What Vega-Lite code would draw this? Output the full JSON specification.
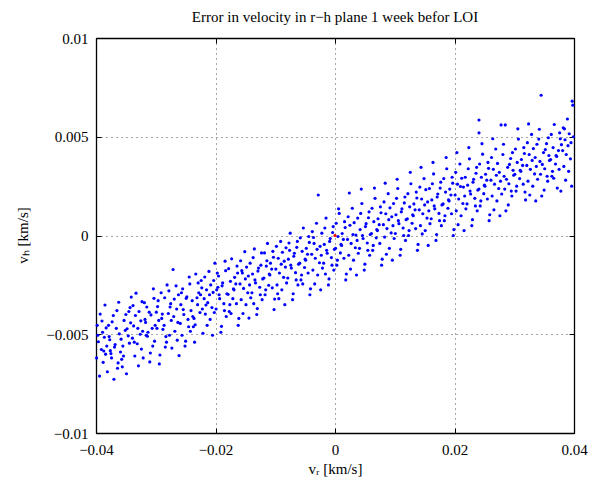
{
"$schema":"https://vega.github.io/schema/vega-lite/v6.json",
"width":478,"height":395,
"autosize":{"type":"none"},
"padding":{"left":96,"top":38,"right":32,"bottom":51},
"background":"white",
"config":{"view":{"stroke":"#000","strokeWidth":1},"font":"Liberation Serif"},
"title":{"text":"Error in velocity in r−h plane 1 week befor LOI","font":"Liberation Serif","fontSize":15,"fontWeight":"normal","color":"#000","anchor":"middle","baseline":"alphabetic","offset":-6},
"layer":[
{"data":{"values":[
{"vr":-0.0399,"vh":-0.0062},{"vr":-0.0398,"vh":-0.00455},{"vr":-0.0396,"vh":-0.00538},{"vr":-0.0394,"vh":-0.00712},{"vr":-0.0393,"vh":-0.00398},{"vr":-0.0391,"vh":-0.00577},{"vr":-0.0389,"vh":-0.0049},{"vr":-0.0388,"vh":-0.00642},{"vr":-0.0386,"vh":-0.00515},{"vr":-0.0385,"vh":-0.00352},{"vr":-0.0384,"vh":-0.00601},{"vr":-0.0383,"vh":-0.00468},{"vr":-0.0382,"vh":-0.0056},{"vr":-0.0381,"vh":-0.0069},{"vr":-0.0397,"vh":-0.00505},{"vr":-0.039,"vh":-0.00433},{"vr":-0.0387,"vh":-0.00585},
{"vr":-0.0361,"vh":-0.00498},{"vr":-0.0363,"vh":-0.00645},{"vr":-0.0365,"vh":-0.0038},{"vr":-0.0368,"vh":-0.00552},{"vr":-0.037,"vh":-0.00728},{"vr":-0.0373,"vh":-0.00437},{"vr":-0.0375,"vh":-0.00598},{"vr":-0.0378,"vh":-0.00512},{"vr":-0.0362,"vh":-0.00338},{"vr":-0.0364,"vh":-0.00672},{"vr":-0.0366,"vh":-0.0047},{"vr":-0.0369,"vh":-0.00565},{"vr":-0.0371,"vh":-0.00405},{"vr":-0.0374,"vh":-0.0062},{"vr":-0.0377,"vh":-0.00528},{"vr":-0.0379,"vh":-0.00455},{"vr":-0.0376,"vh":-0.00583},
{"vr":-0.035,"vh":-0.004},{"vr":-0.0344,"vh":-0.00545},{"vr":-0.0356,"vh":-0.00665},{"vr":-0.0348,"vh":-0.00472},{"vr":-0.0341,"vh":-0.00312},{"vr":-0.0359,"vh":-0.0059},{"vr":-0.0353,"vh":-0.0043},{"vr":-0.0346,"vh":-0.00508},{"vr":-0.0357,"vh":-0.00627},{"vr":-0.0343,"vh":-0.00365},{"vr":-0.0351,"vh":-0.0048},{"vr":-0.0355,"vh":-0.0056},{"vr":-0.0342,"vh":-0.00442},{"vr":-0.0349,"vh":-0.007},{"vr":-0.0358,"vh":-0.00525},{"vr":-0.0345,"vh":-0.00385},{"vr":-0.0354,"vh":-0.0061},
{"vr":-0.0339,"vh":-0.0052},{"vr":-0.0338,"vh":-0.00355},{"vr":-0.0337,"vh":-0.00458},{"vr":-0.0335,"vh":-0.0061},{"vr":-0.0334,"vh":-0.00405},{"vr":-0.0333,"vh":-0.00292},{"vr":-0.0331,"vh":-0.00548},{"vr":-0.033,"vh":-0.0047},{"vr":-0.0329,"vh":-0.0066},{"vr":-0.0328,"vh":-0.00385},{"vr":-0.0326,"vh":-0.005},{"vr":-0.0325,"vh":-0.00432},{"vr":-0.0324,"vh":-0.00575},{"vr":-0.0323,"vh":-0.00335},{"vr":-0.0322,"vh":-0.00485},{"vr":-0.0321,"vh":-0.0062},{"vr":-0.0336,"vh":-0.0054},
{"vr":-0.0301,"vh":-0.00455},{"vr":-0.0303,"vh":-0.00318},{"vr":-0.0305,"vh":-0.0056},{"vr":-0.0308,"vh":-0.00402},{"vr":-0.031,"vh":-0.0064},{"vr":-0.0313,"vh":-0.0049},{"vr":-0.0315,"vh":-0.00362},{"vr":-0.0318,"vh":-0.00425},{"vr":-0.0302,"vh":-0.00535},{"vr":-0.0304,"vh":-0.0027},{"vr":-0.0306,"vh":-0.0047},{"vr":-0.0309,"vh":-0.00595},{"vr":-0.0311,"vh":-0.00388},{"vr":-0.0314,"vh":-0.0051},{"vr":-0.0317,"vh":-0.0044},{"vr":-0.0319,"vh":-0.0034},{"vr":-0.0316,"vh":-0.00505},
{"vr":-0.029,"vh":-0.0042},{"vr":-0.0284,"vh":-0.00565},{"vr":-0.0296,"vh":-0.0033},{"vr":-0.0288,"vh":-0.00475},{"vr":-0.0281,"vh":-0.0025},{"vr":-0.0299,"vh":-0.00388},{"vr":-0.0293,"vh":-0.00605},{"vr":-0.0286,"vh":-0.00455},{"vr":-0.0297,"vh":-0.0036},{"vr":-0.0283,"vh":-0.00512},{"vr":-0.0291,"vh":-0.0029},{"vr":-0.0295,"vh":-0.0043},{"vr":-0.0282,"vh":-0.0054},{"vr":-0.0289,"vh":-0.00398},{"vr":-0.0298,"vh":-0.0047},{"vr":-0.0285,"vh":-0.00315},{"vr":-0.0294,"vh":-0.0065},
{"vr":-0.0279,"vh":-0.00395},{"vr":-0.0278,"vh":-0.0028},{"vr":-0.0277,"vh":-0.00505},{"vr":-0.0275,"vh":-0.00345},{"vr":-0.0274,"vh":-0.0043},{"vr":-0.0273,"vh":-0.0057},{"vr":-0.0271,"vh":-0.00172},{"vr":-0.027,"vh":-0.0041},{"vr":-0.0269,"vh":-0.00322},{"vr":-0.0268,"vh":-0.00485},{"vr":-0.0266,"vh":-0.00255},{"vr":-0.0265,"vh":-0.00372},{"vr":-0.0264,"vh":-0.0053},{"vr":-0.0263,"vh":-0.0044},{"vr":-0.0262,"vh":-0.003},{"vr":-0.0261,"vh":-0.00608},{"vr":-0.0276,"vh":-0.00362},
{"vr":-0.0241,"vh":-0.0038},{"vr":-0.0243,"vh":-0.00245},{"vr":-0.0245,"vh":-0.00462},{"vr":-0.0248,"vh":-0.0031},{"vr":-0.025,"vh":-0.00535},{"vr":-0.0253,"vh":-0.004},{"vr":-0.0255,"vh":-0.0027},{"vr":-0.0258,"vh":-0.0035},{"vr":-0.0242,"vh":-0.00485},{"vr":-0.0244,"vh":-0.0021},{"vr":-0.0246,"vh":-0.00425},{"vr":-0.0249,"vh":-0.00318},{"vr":-0.0251,"vh":-0.0056},{"vr":-0.0254,"vh":-0.00375},{"vr":-0.0257,"vh":-0.0029},{"vr":-0.0259,"vh":-0.00445},{"vr":-0.0256,"vh":-0.00505},
{"vr":-0.023,"vh":-0.0035},{"vr":-0.0224,"vh":-0.00228},{"vr":-0.0236,"vh":-0.0042},{"vr":-0.0228,"vh":-0.0029},{"vr":-0.0221,"vh":-0.00495},{"vr":-0.0239,"vh":-0.0033},{"vr":-0.0233,"vh":-0.00195},{"vr":-0.0226,"vh":-0.0039},{"vr":-0.0237,"vh":-0.00462},{"vr":-0.0223,"vh":-0.00265},{"vr":-0.0231,"vh":-0.00315},{"vr":-0.0235,"vh":-0.0054},{"vr":-0.0222,"vh":-0.00372},{"vr":-0.0229,"vh":-0.0024},{"vr":-0.0238,"vh":-0.0041},{"vr":-0.0225,"vh":-0.003},{"vr":-0.0234,"vh":-0.00452},
{"vr":-0.0219,"vh":-0.0032},{"vr":-0.0218,"vh":-0.0021},{"vr":-0.0217,"vh":-0.00398},{"vr":-0.0215,"vh":-0.00275},{"vr":-0.0214,"vh":-0.00455},{"vr":-0.0213,"vh":-0.0034},{"vr":-0.0211,"vh":-0.00182},{"vr":-0.021,"vh":-0.003},{"vr":-0.0209,"vh":-0.00425},{"vr":-0.0208,"vh":-0.0025},{"vr":-0.0206,"vh":-0.00365},{"vr":-0.0205,"vh":-0.00505},{"vr":-0.0204,"vh":-0.00288},{"vr":-0.0203,"vh":-0.00228},{"vr":-0.0202,"vh":-0.0039},{"vr":-0.0201,"vh":-0.0014},{"vr":-0.0216,"vh":-0.00352},
{"vr":-0.0181,"vh":-0.00295},{"vr":-0.0183,"vh":-0.00178},{"vr":-0.0185,"vh":-0.0038},{"vr":-0.0188,"vh":-0.0024},{"vr":-0.019,"vh":-0.0046},{"vr":-0.0193,"vh":-0.0032},{"vr":-0.0195,"vh":-0.00205},{"vr":-0.0198,"vh":-0.00275},{"vr":-0.0182,"vh":-0.0041},{"vr":-0.0184,"vh":-0.0013},{"vr":-0.0186,"vh":-0.00345},{"vr":-0.0189,"vh":-0.00255},{"vr":-0.0191,"vh":-0.0049},{"vr":-0.0194,"vh":-0.003},{"vr":-0.0197,"vh":-0.0019},{"vr":-0.0199,"vh":-0.00372},{"vr":-0.0196,"vh":-0.00262},
{"vr":-0.017,"vh":-0.0027},{"vr":-0.0164,"vh":-0.00155},{"vr":-0.0176,"vh":-0.0035},{"vr":-0.0168,"vh":-0.00212},{"vr":-0.0161,"vh":-0.0042},{"vr":-0.0179,"vh":-0.00298},{"vr":-0.0173,"vh":-0.00118},{"vr":-0.0166,"vh":-0.00245},{"vr":-0.0177,"vh":-0.00385},{"vr":-0.0163,"vh":-0.0019},{"vr":-0.0171,"vh":-0.0032},{"vr":-0.0175,"vh":-0.00232},{"vr":-0.0162,"vh":-0.00455},{"vr":-0.0169,"vh":-0.00275},{"vr":-0.0178,"vh":-0.00168},{"vr":-0.0165,"vh":-0.00345},{"vr":-0.0174,"vh":-0.00395},
{"vr":-0.0159,"vh":-0.00245},{"vr":-0.0158,"vh":-0.00128},{"vr":-0.0157,"vh":-0.00325},{"vr":-0.0155,"vh":-0.0019},{"vr":-0.0154,"vh":-0.00395},{"vr":-0.0153,"vh":-0.00268},{"vr":-0.0151,"vh":-0.00082},{"vr":-0.015,"vh":-0.0022},{"vr":-0.0149,"vh":-0.0035},{"vr":-0.0148,"vh":-0.0016},{"vr":-0.0146,"vh":-0.0029},{"vr":-0.0145,"vh":-0.00205},{"vr":-0.0144,"vh":-0.00418},{"vr":-0.0143,"vh":-0.0025},{"vr":-0.0142,"vh":-0.0014},{"vr":-0.0141,"vh":-0.00315},{"vr":-0.0156,"vh":-0.00178},
{"vr":-0.0121,"vh":-0.0022},{"vr":-0.0123,"vh":-0.00088},{"vr":-0.0125,"vh":-0.003},{"vr":-0.0128,"vh":-0.00165},{"vr":-0.013,"vh":-0.0037},{"vr":-0.0133,"vh":-0.0024},{"vr":-0.0135,"vh":-0.00068},{"vr":-0.0138,"vh":-0.00195},{"vr":-0.0122,"vh":-0.00325},{"vr":-0.0124,"vh":-0.0015},{"vr":-0.0126,"vh":-0.00262},{"vr":-0.0129,"vh":-0.0018},{"vr":-0.0131,"vh":-0.004},{"vr":-0.0134,"vh":-0.00225},{"vr":-0.0137,"vh":-0.00112},{"vr":-0.0139,"vh":-0.0029},{"vr":-0.0136,"vh":-0.00345},
{"vr":-0.011,"vh":-0.00195},{"vr":-0.0104,"vh":-0.0008},{"vr":-0.0116,"vh":-0.00275},{"vr":-0.0108,"vh":-0.0014},{"vr":-0.0101,"vh":-0.00322},{"vr":-0.0119,"vh":-0.00215},{"vr":-0.0113,"vh":-0.0004},{"vr":-0.0106,"vh":-0.0017},{"vr":-0.0117,"vh":-0.003},{"vr":-0.0103,"vh":-0.0011},{"vr":-0.0111,"vh":-0.00252},{"vr":-0.0115,"vh":-0.00155},{"vr":-0.0102,"vh":-0.00375},{"vr":-0.0109,"vh":-0.002},{"vr":-0.0118,"vh":-0.00088},{"vr":-0.0105,"vh":-0.00265},{"vr":-0.0114,"vh":-0.00128},
{"vr":-0.0099,"vh":-0.0017},{"vr":-0.0098,"vh":-0.00055},{"vr":-0.0097,"vh":-0.0025},{"vr":-0.0095,"vh":-0.00115},{"vr":-0.0094,"vh":-0.0032},{"vr":-0.0093,"vh":-0.0019},{"vr":-0.0091,"vh":-0.0003},{"vr":-0.009,"vh":-0.00145},{"vr":-0.0089,"vh":-0.00275},{"vr":-0.0088,"vh":-0.00085},{"vr":-0.0086,"vh":-0.00212},{"vr":-0.0085,"vh":-0.0013},{"vr":-0.0084,"vh":-0.0035},{"vr":-0.0083,"vh":-0.0016},{"vr":-0.0082,"vh":-0.00062},{"vr":-0.0081,"vh":-0.0024},{"vr":-0.0096,"vh":-0.00295},
{"vr":-0.0061,"vh":-0.00145},{"vr":-0.0063,"vh":-0.0003},{"vr":-0.0065,"vh":-0.00225},{"vr":-0.0068,"vh":-0.0009},{"vr":-0.007,"vh":-0.00295},{"vr":-0.0073,"vh":-0.00165},{"vr":-0.0075,"vh":0.00012},{"vr":-0.0078,"vh":-0.0012},{"vr":-0.0062,"vh":-0.0025},{"vr":-0.0064,"vh":-0.0006},{"vr":-0.0066,"vh":-0.00188},{"vr":-0.0069,"vh":-0.00105},{"vr":-0.0071,"vh":-0.00325},{"vr":-0.0074,"vh":-0.0015},{"vr":-0.0077,"vh":-0.00038},{"vr":-0.0079,"vh":-0.00215},{"vr":-0.0076,"vh":-0.00075},
{"vr":-0.005,"vh":-0.0012},{"vr":-0.0044,"vh":-0.00005},{"vr":-0.0056,"vh":-0.002},{"vr":-0.0048,"vh":-0.00065},{"vr":-0.0041,"vh":-0.0027},{"vr":-0.0059,"vh":-0.0014},{"vr":-0.0053,"vh":0.00038},{"vr":-0.0046,"vh":-0.00095},{"vr":-0.0057,"vh":-0.00225},{"vr":-0.0043,"vh":-0.00035},{"vr":-0.0051,"vh":-0.00162},{"vr":-0.0055,"vh":-0.0008},{"vr":-0.0042,"vh":-0.003},{"vr":-0.0049,"vh":-0.00125},{"vr":-0.0058,"vh":-0.00012},{"vr":-0.0045,"vh":-0.0019},{"vr":-0.0054,"vh":-0.00245},
{"vr":-0.0039,"vh":-0.00095},{"vr":-0.0038,"vh":0.0002},{"vr":-0.0037,"vh":-0.00175},{"vr":-0.0035,"vh":-0.0004},{"vr":-0.0034,"vh":-0.00245},{"vr":-0.0033,"vh":-0.00115},{"vr":-0.0031,"vh":0.00062},{"vr":-0.003,"vh":-0.0007},{"vr":-0.0029,"vh":-0.002},{"vr":-0.0028,"vh":0.00205},{"vr":-0.0026,"vh":-0.00138},{"vr":-0.0025,"vh":-0.00055},{"vr":-0.0024,"vh":-0.00275},{"vr":-0.0023,"vh":-0.001},{"vr":-0.0022,"vh":0.00012},{"vr":-0.0021,"vh":-0.00165},{"vr":-0.0036,"vh":-0.0001},
{"vr":-0.0001,"vh":-0.0007},{"vr":-0.0003,"vh":0.00045},{"vr":-0.0005,"vh":-0.0015},{"vr":-0.0008,"vh":-0.00015},{"vr":-0.001,"vh":-0.0022},{"vr":-0.0013,"vh":-0.0009},{"vr":-0.0015,"vh":0.00088},{"vr":-0.0018,"vh":-0.00045},{"vr":-0.0002,"vh":-0.00175},{"vr":-0.0004,"vh":0.00015},{"vr":-0.0006,"vh":-0.00112},{"vr":-0.0009,"vh":-0.0003},{"vr":-0.0011,"vh":-0.0025},{"vr":-0.0014,"vh":-0.00075},{"vr":-0.0017,"vh":0.00038},{"vr":-0.0019,"vh":-0.0014},{"vr":-0.0016,"vh":-0.00195},
{"vr":0.001,"vh":-0.00045},{"vr":0.0016,"vh":0.0007},{"vr":0.0004,"vh":-0.00125},{"vr":0.0012,"vh":0.0001},{"vr":0.0019,"vh":-0.00195},{"vr":0.0001,"vh":-0.00065},{"vr":0.0007,"vh":0.00112},{"vr":0.0014,"vh":-0.0002},{"vr":0.0003,"vh":-0.0015},{"vr":0.0017,"vh":0.0004},{"vr":0.0009,"vh":-0.00088},{"vr":0.0005,"vh":-0.00005},{"vr":0.0018,"vh":-0.00225},{"vr":0.0011,"vh":-0.0005},{"vr":0.0002,"vh":0.00062},{"vr":0.0015,"vh":-0.00115},{"vr":0.0006,"vh":0.00135},
{"vr":0.0021,"vh":-0.0002},{"vr":0.0022,"vh":0.00095},{"vr":0.0023,"vh":-0.001},{"vr":0.0025,"vh":0.00052},{"vr":0.0026,"vh":-0.0017},{"vr":0.0027,"vh":-0.0004},{"vr":0.0029,"vh":0.00138},{"vr":0.003,"vh":0.00005},{"vr":0.0031,"vh":-0.00125},{"vr":0.0032,"vh":0.00065},{"vr":0.0034,"vh":-0.00062},{"vr":0.0035,"vh":0.00002},{"vr":0.0036,"vh":-0.002},{"vr":0.0037,"vh":-0.00025},{"vr":0.0038,"vh":0.00088},{"vr":0.0039,"vh":-0.0009},{"vr":0.0024,"vh":0.00215},
{"vr":0.0059,"vh":0.00005},{"vr":0.0057,"vh":0.0012},{"vr":0.0055,"vh":-0.00075},{"vr":0.0052,"vh":0.0006},{"vr":0.005,"vh":-0.00145},{"vr":0.0047,"vh":-0.00015},{"vr":0.0045,"vh":0.00162},{"vr":0.0042,"vh":0.0003},{"vr":0.0058,"vh":-0.001},{"vr":0.0056,"vh":0.0009},{"vr":0.0054,"vh":-0.00038},{"vr":0.0051,"vh":0.00045},{"vr":0.0049,"vh":-0.00175},{"vr":0.0046,"vh":0},{"vr":0.0043,"vh":0.00112},{"vr":0.0041,"vh":-0.00065},{"vr":0.0044,"vh":0.00235},
{"vr":0.007,"vh":0.0003},{"vr":0.0076,"vh":0.00145},{"vr":0.0064,"vh":-0.0005},{"vr":0.0072,"vh":0.00085},{"vr":0.0079,"vh":-0.0012},{"vr":0.0061,"vh":0.0001},{"vr":0.0067,"vh":0.00188},{"vr":0.0074,"vh":0.00055},{"vr":0.0063,"vh":-0.00075},{"vr":0.0077,"vh":0.00115},{"vr":0.0069,"vh":-0.00012},{"vr":0.0065,"vh":0.0007},{"vr":0.0078,"vh":-0.0015},{"vr":0.0071,"vh":0.00025},{"vr":0.0062,"vh":0.00138},{"vr":0.0075,"vh":-0.0004},{"vr":0.0066,"vh":0.0024},
{"vr":0.0081,"vh":0.00055},{"vr":0.0082,"vh":0.0017},{"vr":0.0083,"vh":-0.00008},{"vr":0.0085,"vh":0.0011},{"vr":0.0086,"vh":-0.00095},{"vr":0.0087,"vh":0.00035},{"vr":0.0089,"vh":0.00212},{"vr":0.009,"vh":0.0008},{"vr":0.0091,"vh":-0.00065},{"vr":0.0092,"vh":0.0014},{"vr":0.0094,"vh":0.00013},{"vr":0.0095,"vh":0.00095},{"vr":0.0096,"vh":-0.00125},{"vr":0.0097,"vh":0.0005},{"vr":0.0098,"vh":0.00162},{"vr":0.0099,"vh":-0.00015},{"vr":0.0084,"vh":0.00265},
{"vr":0.0119,"vh":0.0008},{"vr":0.0117,"vh":0.00195},{"vr":0.0115,"vh":0},{"vr":0.0112,"vh":0.00135},{"vr":0.011,"vh":-0.0007},{"vr":0.0107,"vh":0.0006},{"vr":0.0105,"vh":0.00238},{"vr":0.0102,"vh":0.00105},{"vr":0.0118,"vh":-0.00025},{"vr":0.0116,"vh":0.00165},{"vr":0.0114,"vh":0.00038},{"vr":0.0111,"vh":0.0012},{"vr":0.0109,"vh":-0.001},{"vr":0.0106,"vh":0.00075},{"vr":0.0103,"vh":0.00188},{"vr":0.0101,"vh":0.0001},{"vr":0.0104,"vh":0.00285},
{"vr":0.013,"vh":0.00105},{"vr":0.0136,"vh":0.0022},{"vr":0.0124,"vh":0.00025},{"vr":0.0132,"vh":0.0016},{"vr":0.0139,"vh":-0.00045},{"vr":0.0121,"vh":0.00085},{"vr":0.0127,"vh":0.00262},{"vr":0.0134,"vh":0.0013},{"vr":0.0123,"vh":0},{"vr":0.0137,"vh":0.0019},{"vr":0.0129,"vh":0.00062},{"vr":0.0125,"vh":0.00145},{"vr":0.0138,"vh":-0.00075},{"vr":0.0131,"vh":0.001},{"vr":0.0122,"vh":0.00212},{"vr":0.0135,"vh":0.00035},{"vr":0.0126,"vh":0.0032},
{"vr":0.0141,"vh":0.0013},{"vr":0.0142,"vh":0.00245},{"vr":0.0143,"vh":0.0005},{"vr":0.0145,"vh":0.00185},{"vr":0.0146,"vh":0.00008},{"vr":0.0147,"vh":0.0011},{"vr":0.0149,"vh":0.00288},{"vr":0.015,"vh":0.00155},{"vr":0.0151,"vh":0.00025},{"vr":0.0152,"vh":0.00232},{"vr":0.0154,"vh":0.00088},{"vr":0.0155,"vh":0.0017},{"vr":0.0156,"vh":-0.0005},{"vr":0.0157,"vh":0.00125},{"vr":0.0158,"vh":0.00238},{"vr":0.0159,"vh":0.0006},{"vr":0.0144,"vh":0.00345},
{"vr":0.0179,"vh":0.00155},{"vr":0.0177,"vh":0.0027},{"vr":0.0175,"vh":0.00075},{"vr":0.0172,"vh":0.0021},{"vr":0.017,"vh":0.00005},{"vr":0.0167,"vh":0.00135},{"vr":0.0165,"vh":0.00312},{"vr":0.0162,"vh":0.0018},{"vr":0.0178,"vh":0.0005},{"vr":0.0176,"vh":0.0024},{"vr":0.0174,"vh":0.00112},{"vr":0.0171,"vh":0.00195},{"vr":0.0169,"vh":-0.00025},{"vr":0.0166,"vh":0.0015},{"vr":0.0163,"vh":0.00262},{"vr":0.0161,"vh":0.00085},{"vr":0.0164,"vh":0.0037},
{"vr":0.019,"vh":0.0018},{"vr":0.0196,"vh":0.00295},{"vr":0.0184,"vh":0.001},{"vr":0.0192,"vh":0.00235},{"vr":0.0199,"vh":0.0003},{"vr":0.0181,"vh":0.0016},{"vr":0.0187,"vh":0.00338},{"vr":0.0194,"vh":0.00205},{"vr":0.0183,"vh":0.00075},{"vr":0.0197,"vh":0.00265},{"vr":0.0189,"vh":0.00138},{"vr":0.0185,"vh":0.0022},{"vr":0.0198,"vh":0},{"vr":0.0191,"vh":0.00175},{"vr":0.0182,"vh":0.00288},{"vr":0.0195,"vh":0.0011},{"vr":0.0186,"vh":0.00395},
{"vr":0.0201,"vh":0.00205},{"vr":0.0202,"vh":0.0032},{"vr":0.0203,"vh":0.00125},{"vr":0.0205,"vh":0.0026},{"vr":0.0206,"vh":0.00055},{"vr":0.0207,"vh":0.00185},{"vr":0.0209,"vh":0.00362},{"vr":0.021,"vh":0.00248},{"vr":0.0211,"vh":0.001},{"vr":0.0212,"vh":0.0029},{"vr":0.0214,"vh":0.00162},{"vr":0.0215,"vh":0.00245},{"vr":0.0216,"vh":0.00025},{"vr":0.0217,"vh":0.002},{"vr":0.0218,"vh":0.00295},{"vr":0.0219,"vh":0.00135},{"vr":0.0204,"vh":0.0042},
{"vr":0.0239,"vh":0.0023},{"vr":0.0237,"vh":0.00345},{"vr":0.0235,"vh":0.0015},{"vr":0.0232,"vh":0.00285},{"vr":0.023,"vh":0.0008},{"vr":0.0227,"vh":0.0021},{"vr":0.0225,"vh":0.00388},{"vr":0.0222,"vh":0.00255},{"vr":0.0238,"vh":0.00125},{"vr":0.0236,"vh":0.00315},{"vr":0.0234,"vh":0.00188},{"vr":0.0231,"vh":0.0027},{"vr":0.0229,"vh":0.0005},{"vr":0.0226,"vh":0.00225},{"vr":0.0223,"vh":0.00338},{"vr":0.0221,"vh":0.0016},{"vr":0.0224,"vh":0.00445},{"vr":0.0241,"vh":0.00585},{"vr":0.0241,"vh":0.0052},
{"vr":0.025,"vh":0.00255},{"vr":0.0256,"vh":0.0037},{"vr":0.0244,"vh":0.00175},{"vr":0.0252,"vh":0.0031},{"vr":0.0259,"vh":0.00105},{"vr":0.0241,"vh":0.00235},{"vr":0.0247,"vh":0.00412},{"vr":0.0254,"vh":0.0028},{"vr":0.0243,"vh":0.0015},{"vr":0.0257,"vh":0.0034},{"vr":0.0249,"vh":0.00212},{"vr":0.0245,"vh":0.00295},{"vr":0.0258,"vh":0.00075},{"vr":0.0251,"vh":0.0025},{"vr":0.0242,"vh":0.00362},{"vr":0.0255,"vh":0.00185},{"vr":0.0246,"vh":0.00465},
{"vr":0.0261,"vh":0.0028},{"vr":0.0262,"vh":0.00395},{"vr":0.0263,"vh":0.002},{"vr":0.0265,"vh":0.00335},{"vr":0.0266,"vh":0.0013},{"vr":0.0267,"vh":0.0026},{"vr":0.0269,"vh":0.00438},{"vr":0.027,"vh":0.00305},{"vr":0.0271,"vh":0.00175},{"vr":0.0272,"vh":0.00365},{"vr":0.0274,"vh":0.00238},{"vr":0.0275,"vh":0.0032},{"vr":0.0276,"vh":0.001},{"vr":0.0277,"vh":0.00275},{"vr":0.0278,"vh":0.0056},{"vr":0.0279,"vh":0.0021},{"vr":0.0264,"vh":0.0049},
{"vr":0.0299,"vh":0.00305},{"vr":0.0297,"vh":0.0042},{"vr":0.0295,"vh":0.00225},{"vr":0.0292,"vh":0.0036},{"vr":0.029,"vh":0.00155},{"vr":0.0287,"vh":0.00285},{"vr":0.0285,"vh":0.0056},{"vr":0.0282,"vh":0.00462},{"vr":0.0298,"vh":0.0033},{"vr":0.0296,"vh":0.002},{"vr":0.0294,"vh":0.0039},{"vr":0.0291,"vh":0.00262},{"vr":0.0289,"vh":0.00345},{"vr":0.0286,"vh":0.00125},{"vr":0.0283,"vh":0.003},{"vr":0.0281,"vh":0.0041},{"vr":0.0284,"vh":0.00235},
{"vr":0.031,"vh":0.0033},{"vr":0.0316,"vh":0.00445},{"vr":0.0304,"vh":0.0025},{"vr":0.0312,"vh":0.00385},{"vr":0.0319,"vh":0.0018},{"vr":0.0301,"vh":0.0031},{"vr":0.0307,"vh":0.00488},{"vr":0.0314,"vh":0.00355},{"vr":0.0303,"vh":0.00225},{"vr":0.0317,"vh":0.00415},{"vr":0.0309,"vh":0.00288},{"vr":0.0305,"vh":0.0037},{"vr":0.0318,"vh":0.0022},{"vr":0.0311,"vh":0.00325},{"vr":0.0302,"vh":0.00438},{"vr":0.0315,"vh":0.0026},{"vr":0.0306,"vh":0.0054},
{"vr":0.0321,"vh":0.00355},{"vr":0.0322,"vh":0.0047},{"vr":0.0323,"vh":0.00275},{"vr":0.0325,"vh":0.0041},{"vr":0.0326,"vh":0.00205},{"vr":0.0327,"vh":0.00335},{"vr":0.0329,"vh":0.00512},{"vr":0.033,"vh":0.0038},{"vr":0.0331,"vh":0.0025},{"vr":0.0332,"vh":0.0044},{"vr":0.0334,"vh":0.00312},{"vr":0.0335,"vh":0.00395},{"vr":0.0336,"vh":0.00175},{"vr":0.0337,"vh":0.0035},{"vr":0.0338,"vh":0.00462},{"vr":0.0339,"vh":0.00285},{"vr":0.0324,"vh":0.00565},
{"vr":0.0359,"vh":0.0038},{"vr":0.0357,"vh":0.00495},{"vr":0.0355,"vh":0.003},{"vr":0.0352,"vh":0.00435},{"vr":0.035,"vh":0.0023},{"vr":0.0347,"vh":0.0036},{"vr":0.0345,"vh":0.0071},{"vr":0.0342,"vh":0.00538},{"vr":0.0358,"vh":0.00405},{"vr":0.0356,"vh":0.00275},{"vr":0.0354,"vh":0.00465},{"vr":0.0351,"vh":0.00338},{"vr":0.0349,"vh":0.0042},{"vr":0.0346,"vh":0.002},{"vr":0.0343,"vh":0.00375},{"vr":0.0341,"vh":0.00488},{"vr":0.0344,"vh":0.0031},
{"vr":0.037,"vh":0.00405},{"vr":0.0376,"vh":0.0052},{"vr":0.0364,"vh":0.00325},{"vr":0.0372,"vh":0.0024},{"vr":0.0379,"vh":0.0046},{"vr":0.0361,"vh":0.00385},{"vr":0.0367,"vh":0.00562},{"vr":0.0374,"vh":0.0043},{"vr":0.0363,"vh":0.003},{"vr":0.0377,"vh":0.0049},{"vr":0.0369,"vh":0.00362},{"vr":0.0365,"vh":0.00445},{"vr":0.0378,"vh":0.00225},{"vr":0.0371,"vh":0.004},{"vr":0.0362,"vh":0.00512},{"vr":0.0375,"vh":0.00335},{"vr":0.0366,"vh":0.0029},
{"vr":0.0381,"vh":0.0043},{"vr":0.0382,"vh":0.00545},{"vr":0.0383,"vh":0.0035},{"vr":0.0385,"vh":0.00485},{"vr":0.0386,"vh":0.0028},{"vr":0.0387,"vh":0.0041},{"vr":0.0389,"vh":0.0059},{"vr":0.039,"vh":0.00455},{"vr":0.0391,"vh":0.00325},{"vr":0.0392,"vh":0.00515},{"vr":0.0394,"vh":0.00388},{"vr":0.0395,"vh":0.0047},{"vr":0.0396,"vh":0.0025},{"vr":0.0397,"vh":0.0068},{"vr":0.0398,"vh":0.0066},{"vr":0.0399,"vh":0.005},{"vr":0.0384,"vh":0.0054}
]},
"mark":{"type":"circle","size":10,"opacity":1,"color":"#0000ff"},
"encoding":{
"x":{"field":"vr","type":"quantitative","scale":{"domain":[-0.04,0.04],"nice":false,"zero":false},
"axis":{"orient":"bottom","values":[-0.04,-0.02,0,0.02,0.04],"format":"~g","grid":true,"gridColor":"#000","gridDash":[1,4],"gridOpacity":0.7,"domainColor":"#000","domainWidth":1.3,"tickColor":"#000","tickSize":-5,"labelPadding":14,"labelFont":"Liberation Serif","labelFontSize":15,"labelColor":"#000","labelFlush":false,"title":"vᵣ [km/s]","titleFont":"Liberation Serif","titleFontSize":15,"titleFontWeight":"normal","titleColor":"#000","titleX":239,"titleY":40,"titleBaseline":"alphabetic","titleAlign":"center"}},
"y":{"field":"vh","type":"quantitative","scale":{"domain":[-0.01,0.01],"nice":false,"zero":false},
"axis":{"orient":"left","values":[-0.01,-0.005,0,0.005,0.01],"format":"~g","grid":true,"gridColor":"#000","gridDash":[1,4],"gridOpacity":0.7,"domainColor":"#000","domainWidth":1.3,"tickColor":"#000","tickSize":-5,"labelPadding":13,"labelFont":"Liberation Serif","labelFontSize":15,"labelColor":"#000","labelFlush":false,"title":"vₕ [km/s]","titleFont":"Liberation Serif","titleFontSize":15,"titleFontWeight":"normal","titleColor":"#000","titleX":-74,"titleY":197,"titleAngle":-90,"titleBaseline":"middle","titleAlign":"center"}}
}},
{"data":{"values":[{"vr":0,"vh":0}]},
"mark":{"type":"circle","size":10,"opacity":1,"color":"#ff0000"},
"encoding":{
"x":{"field":"vr","type":"quantitative","scale":{"domain":[-0.04,0.04],"nice":false,"zero":false},
"axis":{"orient":"top","values":[-0.04,-0.02,0,0.02,0.04],"labels":false,"grid":false,"domainColor":"#000","domainWidth":1.3,"tickColor":"#000","tickSize":-5,"title":null}},
"y":{"field":"vh","type":"quantitative","scale":{"domain":[-0.01,0.01],"nice":false,"zero":false},
"axis":{"orient":"right","values":[-0.01,-0.005,0,0.005,0.01],"labels":false,"grid":false,"domainColor":"#000","domainWidth":1.3,"tickColor":"#000","tickSize":-5,"title":null}}
}}
],
"resolve":{"axis":{"x":"independent","y":"independent"}}
}
